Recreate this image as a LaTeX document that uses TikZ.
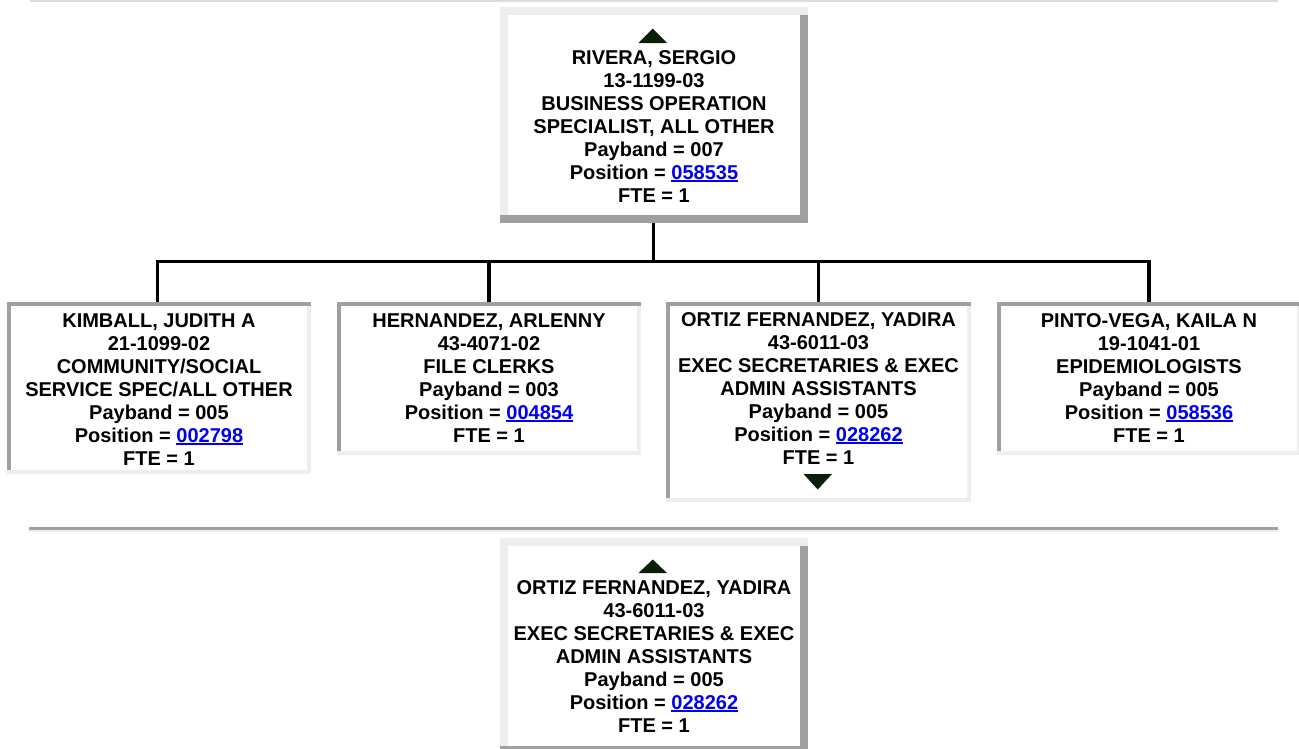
\documentclass[tikz,border=0pt]{standalone}
\usepackage{fontspec}
\setmainfont{Liberation Sans}
\definecolor{lightb}{HTML}{EEEEEE}
\definecolor{darkb}{HTML}{A0A0A0}
\definecolor{topline}{HTML}{DCDCDC}
\definecolor{linkc}{HTML}{0000EE}
\definecolor{arrowc}{HTML}{0A1F0A}
\newcommand\poslink[1]{\setbox0\hbox{#1}\textcolor{linkc}{\rlap{\rule[-2.6pt]{\wd0}{1.8pt}}\box0}}
\newcommand\outsetframe[2]{%
  \fill[lightb] (#1.north west) rectangle ([yshift=-#2]#1.north east);
  \fill[lightb] ([yshift=-#2]#1.north west) rectangle ([xshift=#2,yshift=#2]#1.south west);
  \fill[darkb] ([xshift=-#2,yshift=-#2]#1.north east) rectangle (#1.south east);
  \fill[darkb] ([yshift=#2]#1.south west) rectangle (#1.south east);}
\newcommand\insetframe[2]{%
  \fill[darkb] (#1.north west) rectangle ([yshift=-#2]#1.north east);
  \fill[darkb] ([yshift=-#2]#1.north west) rectangle ([xshift=#2,yshift=#2]#1.south west);
  \fill[lightb] ([xshift=-#2,yshift=-#2]#1.north east) rectangle ([yshift=#2]#1.south east);
  \fill[lightb] ([yshift=#2]#1.south west) rectangle (#1.south east);}
\tikzset{
  boxarea/.style={rectangle, inner sep=0pt, outer sep=0pt, fill=white},
  txt/.style={align=center, inner sep=0pt, anchor=base,
    font=\bfseries\fontsize{20}{23}\selectfont},
  conn/.style={line width=3.5pt, draw=black},
}
\begin{document}
\begin{tikzpicture}[x=1pt,y=-1pt]
\useasboundingbox (0,0) rectangle (1299,748);
\fill[white] (0,0) rectangle (1299,748);
% top rule
\fill[topline] (30,0) rectangle (1278,1.5);
% separator
\fill[darkb] (29,527) rectangle (1278,530);
\fill[lightb] (29,530) rectangle (1278,531.5);

% boxes
\node[boxarea, minimum width=308pt, minimum height=216pt] (top) at (654,115) {};
\outsetframe{top}{8pt}
\node[boxarea, minimum width=304pt, minimum height=172pt] (c1) at (159,388) {};
\insetframe{c1}{4pt}
\node[boxarea, minimum width=304pt, minimum height=153pt] (c2) at (489,378.5) {};
\insetframe{c2}{4pt}
\node[boxarea, minimum width=305pt, minimum height=200pt] (c3) at (818.5,402) {};
\insetframe{c3}{4pt}
\node[boxarea, minimum width=304pt, minimum height=153pt] (c4) at (1149,378.5) {};
\insetframe{c4}{4pt}
\node[boxarea, minimum width=308pt, minimum height=216pt] (bot) at (654,646) {};
\outsetframe{bot}{8pt}

% triangles
\fill[arrowc] (638.5,43) -- (667,43) -- (652.75,28.5) -- cycle;
\fill[arrowc] (638.5,573) -- (667,573) -- (652.75,559.5) -- cycle;
\fill[arrowc] (803.5,474) -- (832,474) -- (817.75,489.5) -- cycle;

% texts (anchored at the baseline of the last line)
\node[txt] (t0) at (654,202.5) {RIVERA, SERGIO\\13-1199-03\\BUSINESS OPERATION\\SPECIALIST, ALL OTHER\\Payband = 007\\Position = \poslink{058535}\\FTE = 1};
\node[txt] (t1) at (159,465) {KIMBALL, JUDITH A\\21-1099-02\\COMMUNITY/SOCIAL\\SERVICE SPEC/ALL OTHER\\Payband = 005\\Position = \poslink{002798}\\FTE = 1};
\node[txt] (t2) at (489,442) {HERNANDEZ, ARLENNY\\43-4071-02\\FILE CLERKS\\Payband = 003\\Position = \poslink{004854}\\FTE = 1};
\node[txt] (t3) at (818.5,464.5) {ORTIZ FERNANDEZ, YADIRA\\43-6011-03\\EXEC SECRETARIES \& EXEC\\ADMIN ASSISTANTS\\Payband = 005\\Position = \poslink{028262}\\FTE = 1};
\node[txt] (t4) at (1149,442) {PINTO-VEGA, KAILA N\\19-1041-01\\EPIDEMIOLOGISTS\\Payband = 005\\Position = \poslink{058536}\\FTE = 1};
\node[txt] (t5) at (654,732) {ORTIZ FERNANDEZ, YADIRA\\43-6011-03\\EXEC SECRETARIES \& EXEC\\ADMIN ASSISTANTS\\Payband = 005\\Position = \poslink{028262}\\FTE = 1};

% connectors
\coordinate (busL) at (155.5,261.5);
\coordinate (busR) at (1150.75,261.5);
\draw[conn] (busL) -- (busR);
\draw[conn] ([xshift=-0.5pt]top.south) -- ([xshift=-0.5pt]top.south |- busL);
\draw[conn] ([xshift=-1.5pt]c1.north) -- ([xshift=-1.5pt]c1.north |- busL);
\draw[conn] (c2.north) -- (c2.north |- busL);
\draw[conn] (c3.north) -- (c3.north |- busL);
\draw[conn] (c4.north) -- (c4.north |- busL);
\end{tikzpicture}
\end{document}
